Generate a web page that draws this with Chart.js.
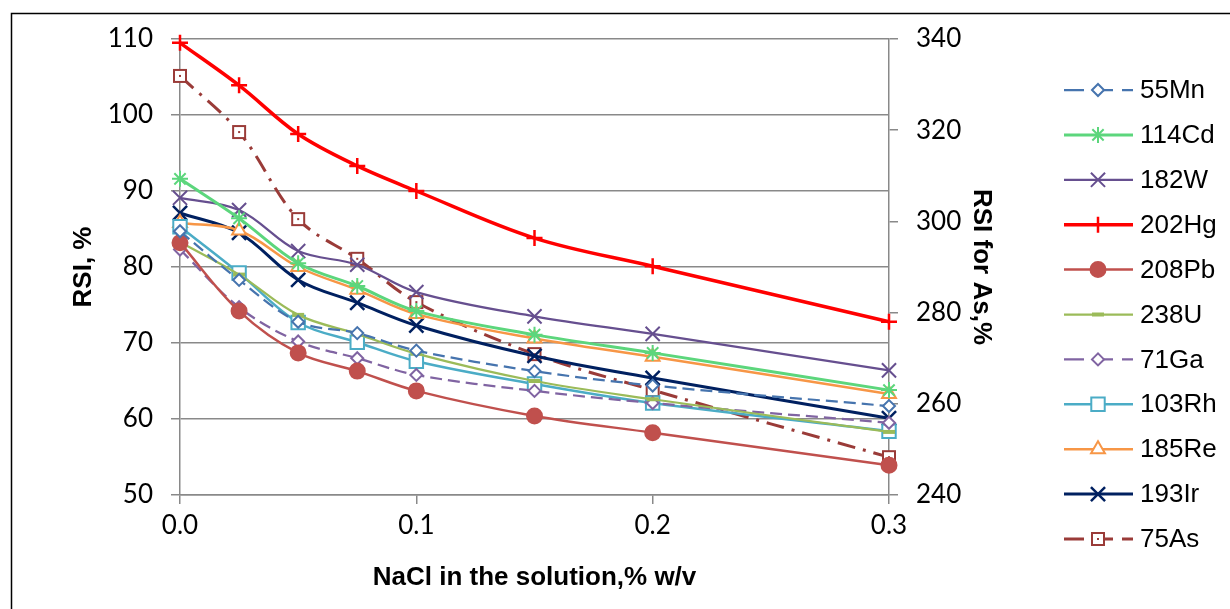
<!DOCTYPE html>
<html>
<head>
<meta charset="utf-8">
<script src="https://cdn.jsdelivr.net/npm/chart.js@4.4.0/dist/chart.umd.min.js"></script>
<style>
  html, body { margin: 0; padding: 0; background: #fff; }
</style>
</head>
<body>
<canvas id="rsiChart" width="1230" height="609"></canvas>
<script>
// NaCl concentration, % w/v
const nacl = [0, 0.025, 0.05, 0.075, 0.1, 0.15, 0.2, 0.3];

// RSI, % (left axis)
const mn55  = [84.7, 78.3, 72.8, 71.3, 69.0, 66.3, 64.4, 61.7];
const cd114 = [91.6, 86.4, 80.5, 77.5, 74.2, 71.1, 68.7, 63.8];
const w182  = [89.1, 87.5, 82.1, 80.3, 76.7, 73.5, 71.2, 66.4];
const hg202 = [109.5, 103.9, 97.5, 93.3, 90.0, 83.8, 80.1, 72.8];
const pb208 = [83.2, 74.2, 68.7, 66.3, 63.7, 60.4, 58.2, 53.9];
const u238  = [83.3, 79.0, 73.7, 71.2, 68.6, 65.0, 62.6, 58.3];
const ga71  = [82.3, 74.7, 70.2, 68.0, 65.8, 63.7, 62.1, 59.5];
const rh103 = [85.3, 79.2, 72.7, 70.1, 67.6, 64.6, 62.1, 58.4];
const re185 = [85.8, 84.8, 80.0, 77.0, 73.8, 70.6, 68.2, 63.3];
const ir193 = [87.1, 84.5, 78.3, 75.3, 72.3, 68.3, 65.4, 60.1];

// RSI for As, % (right axis)
const as75  = [331.9, 319.6, 300.5, 291.8, 282.3, 270.9, 263.0, 248.3];

const xTickLabels = ["0.0", "0.1", "0.2", "0.3"];

Chart.defaults.color = "#000";
const gridGray = "#898989";
const tickFont = { family: "Lato", size: 26 };
const titleFont = { family: "Liberation Sans", size: 26, weight: "bold" };

function pts(values) {
    return values.map((v, i) => ({ x: nacl[i], y: v }));
}

// small square with a dot inside, used for the As marker
function boxDot(color) {
    const c = document.createElement("canvas");
    c.width = 16;
    c.height = 16;
    const g = c.getContext("2d");
    g.fillStyle = "#fff";
    g.fillRect(2, 2, 12, 12);
    g.strokeStyle = color;
    g.lineWidth = 2;
    g.strokeRect(2, 2, 12, 12);
    g.fillStyle = color;
    g.fillRect(7, 7, 2, 2);
    return c;
}

function series(label, values, color, opts) {
    return Object.assign({
        label: label,
        data: pts(values),
        borderColor: color,
        borderWidth: 2.25,
        pointBorderColor: color,
        pointBackgroundColor: "#fff",
        pointBorderWidth: 2,
        pointRadius: 7,
        tension: 0.35,
        clip: false,
        yAxisID: "y"
    }, opts);
}

const datasets = [
    series("55Mn", mn55, "#4674ae", { borderDash: [12, 6], pointStyle: "rectRot", pointRadius: 6 }),
    series("114Cd", cd114, "#5cd67c", { borderWidth: 3, pointStyle: "star", pointRadius: 8 }),
    series("182W", w182, "#664f8f", { pointStyle: "crossRot", pointRadius: 10 }),
    series("202Hg", hg202, "#ff0000", { borderWidth: 3.5, pointStyle: "cross", pointRadius: 8, pointBorderWidth: 2.5 }),
    series("208Pb", pb208, "#c0504d", { borderWidth: 2.5, pointStyle: "circle", pointRadius: 7.5, pointBackgroundColor: "#c0504d" }),
    series("238U", u238, "#9bbb59", { pointStyle: "line", pointRadius: 6, pointBorderWidth: 4 }),
    series("71Ga", ga71, "#8064a2", { borderDash: [12, 6], pointStyle: "rectRot", pointRadius: 6 }),
    series("103Rh", rh103, "#4bacc6", { borderWidth: 2.5, pointStyle: "rect", pointRadius: 9.5 }),
    series("185Re", re185, "#f79646", { borderWidth: 2.5, pointStyle: "triangle", pointRadius: 8 }),
    series("193Ir", ir193, "#002060", { borderWidth: 3, pointStyle: "crossRot", pointRadius: 10, pointBorderWidth: 2.5 }),
    series("75As", as75, "#9a3b38", { borderWidth: 3, borderDash: [18, 8, 3, 8], pointStyle: boxDot("#9a3b38"), yAxisID: "y2" })
];

// legend drawn to the right of the plot, one row per dataset
const sideLegend = {
    id: "sideLegend",
    beforeDraw(chart) {
        const ctx = chart.ctx;
        ctx.save();
        ctx.fillStyle = "#fff";
        ctx.fillRect(0, 0, chart.width, chart.height);
        ctx.strokeStyle = "#000";
        ctx.lineWidth = 1.5;
        ctx.strokeRect(11.5, 13.5, 1400, 800);
        ctx.restore();
    },
    afterDraw(chart) {
        const ctx = chart.ctx;
        chart.data.datasets.forEach((ds, i) => {
            const y = 90 + i * 44.9;
            ctx.save();
            ctx.strokeStyle = ds.borderColor;
            ctx.lineWidth = ds.borderWidth;
            ctx.setLineDash(ds.borderDash ? [20, 9] : []);
            ctx.beginPath();
            ctx.moveTo(1064, y);
            ctx.lineTo(1133, y);
            ctx.stroke();
            ctx.setLineDash([]);
            ctx.strokeStyle = ds.pointBorderColor;
            ctx.fillStyle = ds.pointBackgroundColor;
            ctx.lineWidth = ds.pointBorderWidth;
            Chart.helpers.drawPoint(ctx, {
                pointStyle: ds.pointStyle,
                radius: ds.pointRadius,
                borderWidth: ds.pointBorderWidth,
                rotation: 0
            }, 1098, y);
            ctx.fillStyle = "#000";
            ctx.font = "26px 'Liberation Sans'";
            ctx.textAlign = "left";
            ctx.textBaseline = "middle";
            ctx.fillText(ds.label, 1140, y + 1);
            ctx.restore();
        });
    }
};

const ctx = document.getElementById("rsiChart").getContext("2d");
new Chart(ctx, {
    type: "line",
    data: { datasets: datasets },
    plugins: [sideLegend],
    options: {
        responsive: false,
        animation: false,
        devicePixelRatio: 1,
        layout: { padding: { left: 68, right: 233, top: 39, bottom: 16 } },
        plugins: { legend: { display: false }, tooltip: { enabled: false } },
        scales: {
            x: {
                type: "linear",
                min: 0,
                max: 0.3,
                ticks: {
                    stepSize: 0.1,
                    font: tickFont,
                    padding: 6,
                    callback: (v) => xTickLabels[Math.round(v * 10)]
                },
                grid: { drawOnChartArea: false, tickLength: 9, color: gridGray, lineWidth: 1.5 },
                border: { color: gridGray, width: 1.5 },
                title: { display: true, text: "NaCl in the solution,% w/v", font: titleFont, padding: 0 },
                afterFit(s) { s.height = 98; }
            },
            y: {
                position: "left",
                min: 50,
                max: 110,
                ticks: { stepSize: 10, font: tickFont, padding: 18 },
                grid: { tickLength: 9, color: gridGray, lineWidth: 1.5 },
                border: { color: gridGray, width: 1.5 },
                title: { display: true, text: "RSI, %", font: titleFont, padding: 0 },
                afterFit(s) { s.width = 112; }
            },
            y2: {
                position: "right",
                min: 240,
                max: 340,
                ticks: { stepSize: 20, font: tickFont, padding: 18 },
                grid: { drawOnChartArea: false, tickLength: 9, color: gridGray, lineWidth: 1.5 },
                border: { color: gridGray, width: 1.5 },
                title: { display: true, text: "RSI for As,%", font: titleFont, padding: 0 },
                afterFit(s) { s.width = 108; }
            }
        }
    }
});
</script>
</body>
</html>
